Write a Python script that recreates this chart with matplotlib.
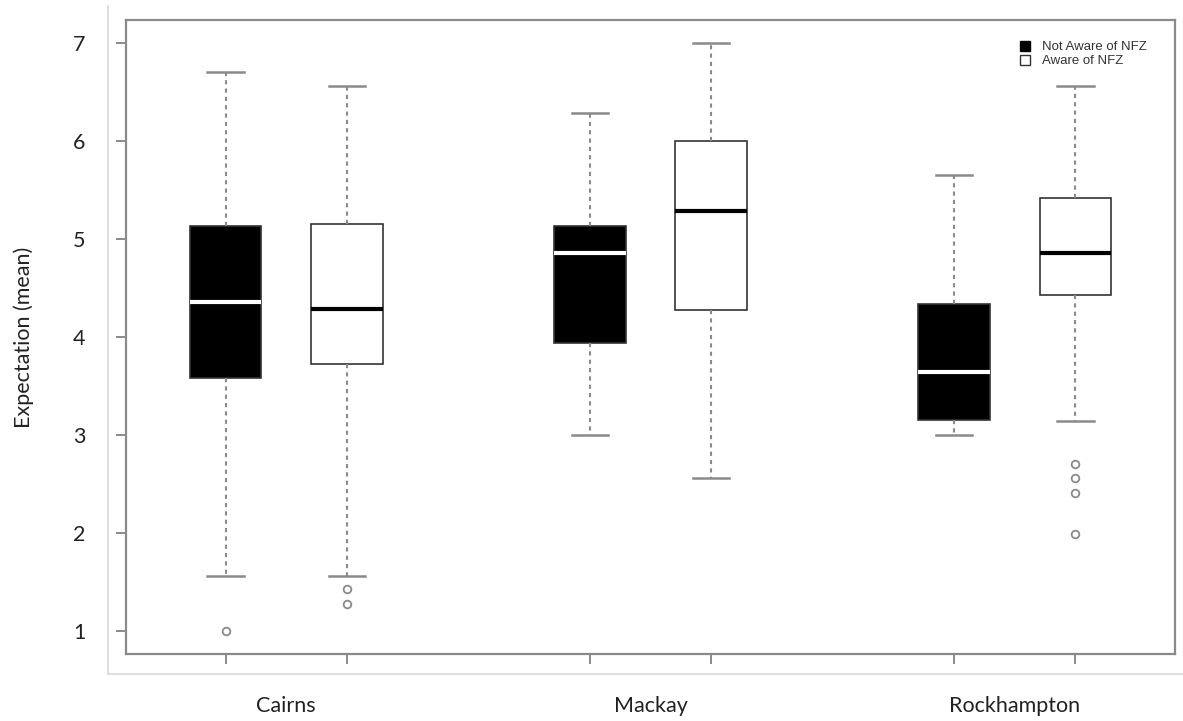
import matplotlib
matplotlib.use("Agg")
import matplotlib.pyplot as plt
from matplotlib.patches import Patch
from matplotlib.lines import Line2D
import matplotlib.transforms as mtransforms

# summary stats (Not aware / Aware for each town)
towns = ["Cairns", "Mackay", "Rockhampton"]
positions = [1, 2, 4, 5, 7, 8]
whis_lo = [1.56, 1.56, 3.00, 2.56, 3.00, 3.14]
q1 = [3.58, 3.72, 3.94, 4.28, 3.15, 4.43]
med = [4.36, 4.29, 4.86, 5.29, 3.64, 4.86]
q3 = [5.13, 5.15, 5.13, 6.00, 4.34, 5.42]
whis_hi = [6.71, 6.57, 6.29, 7.00, 5.66, 6.57]
outliers = [[1.0], [1.42, 1.27], [], [], [], [2.70, 2.56, 2.41, 1.99]]
aware = [False, True, False, True, False, True]
legend_labels = ["Not Aware of NFZ", "Aware of NFZ"]

fig = plt.figure(figsize=(11.83, 7.21), dpi=100)
ax = fig.add_axes([126/1183, 1-654/721, (1175-126)/1183, (654-20)/721])

grey = "#8a8a8a"
stats = []
for i in range(len(positions)):
    stats.append(dict(med=med[i], q1=q1[i], q3=q3[i], whislo=whis_lo[i],
                      whishi=whis_hi[i], fliers=outliers[i]))

for i, st in enumerate(stats):
    fc = "white" if aware[i] else "black"
    mc = "black" if aware[i] else "white"
    ax.bxp([st], positions=[positions[i]], widths=0.59, patch_artist=True,
           boxprops=dict(facecolor=fc, edgecolor="#333333", linewidth=1.2),
           medianprops=dict(color=mc, linewidth=3, solid_capstyle="butt"),
           whiskerprops=dict(color=grey, linestyle=(0, (2, 2)), linewidth=1.5),
           capprops=dict(color=grey, linewidth=1.8),
           capwidths=0.3,
           flierprops=dict(marker="o", markersize=5.5, markerfacecolor="none",
                           markeredgecolor=grey, markeredgewidth=1.3))

ax.set_xlim(0.18, 8.82)
ax.set_ylim(0.76, 7.24)

for s in ax.spines.values():
    s.set_color(grey)
    s.set_linewidth(1.6)

font = ["Lato", "DejaVu Sans"]
ax.set_yticks(range(1, 8))
ax.set_yticklabels([str(v) for v in range(1, 8)], family=font, fontsize=15.5, color="#222222")
ax.tick_params(axis="y", length=7, width=1.4, color=grey, pad=22)
ax.set_xticks(positions)
ax.set_xticklabels([])
ax.tick_params(axis="x", length=7, width=1.4, color=grey)

ax.set_ylabel("Expectation (mean)", family=font, fontsize=15.5, color="#222222")
ax.yaxis.set_label_coords(-0.088, 0.5)

trans = mtransforms.blended_transform_factory(ax.transData, ax.transAxes)
for k, t in enumerate(towns):
    ax.text(1.5 + 3 * k, -0.082, t, transform=trans, ha="center", va="center",
            family=font, fontsize=15.5, color="#222222")

handles = [Patch(facecolor="black", edgecolor="black"),
           Patch(facecolor="white", edgecolor="#333333")]
leg = ax.legend(handles, legend_labels, loc="upper right", bbox_to_anchor=(0.973, 0.967),
                frameon=False, prop=dict(family="Liberation Sans", size=9.5),
                handlelength=0.75, handleheight=0.75, handletextpad=0.9,
                labelspacing=0.12, borderpad=0, borderaxespad=0)
for txt in leg.get_texts():
    txt.set_color("#333333")

# outer light frame
fig.add_artist(Line2D([108/1183, 108/1183], [1-6/721, 1-674/721],
                      transform=fig.transFigure, color="#d9d9d9", linewidth=1.2))
fig.add_artist(Line2D([108/1183, 1.0], [1-674/721, 1-674/721],
                      transform=fig.transFigure, color="#d9d9d9", linewidth=1.2))

fig.savefig("out.png", dpi=100)
